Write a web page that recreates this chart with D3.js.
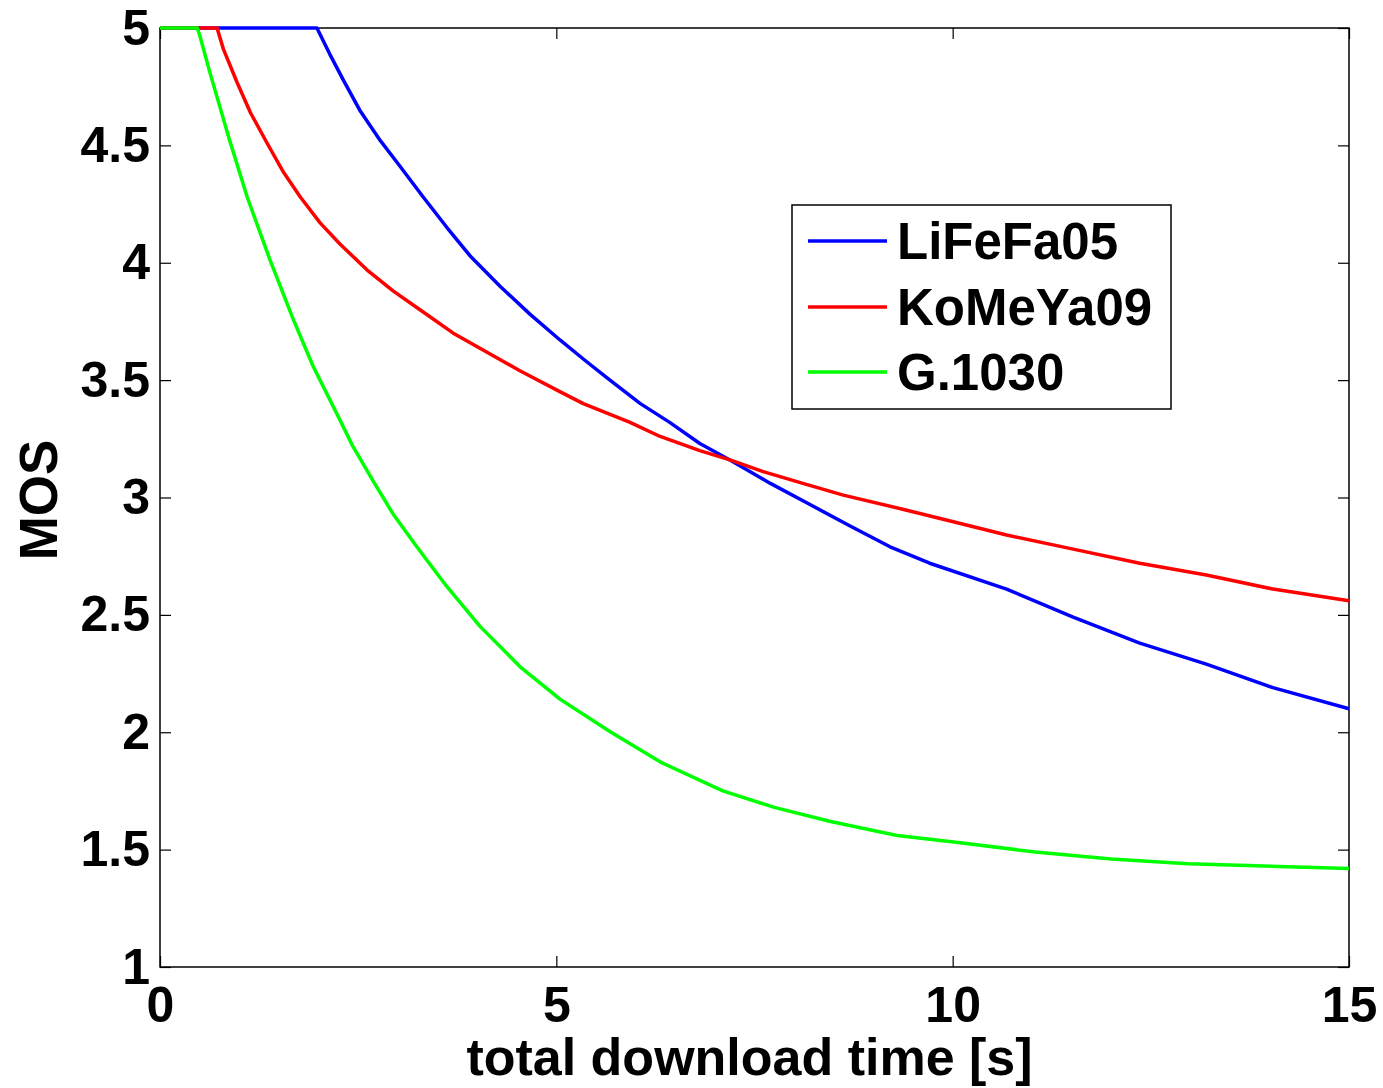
<!DOCTYPE html>
<html>
<head>
    <style>
        body { margin: 0; background: #fff; }
        text { font-family: "Liberation Sans", Arial, sans-serif; font-weight: bold; }
        .axis text { font-size: 50px; fill: #000; }
        .axis line { stroke: #000; stroke-width: 1.2; }
        .axis path { display: none; }
        .legend text { font-size: 51px; }
    </style>
    <script src="https://d3js.org/d3.v7.min.js"></script>
</head>
<body>
    <svg width="1383" height="1088"></svg>
    <script>
    // series
    var names = ["LiFeFa05", "KoMeYa09", "G.1030"];
    var colors = ["#0000ff", "#ff0000", "#00ff00"];

    var timeBlue = [0, 1.98, 2.14, 2.31, 2.52, 2.78, 3.03, 3.32, 3.62, 3.91, 4.29, 4.67, 5.05, 5.34, 5.64, 6.06, 6.43, 6.81, 7.19, 7.70, 8.20, 8.70, 9.21, 9.71, 10.68, 11.52, 12.36, 13.2, 14.04, 15];
    var mosBlue  = [5, 5, 4.89, 4.78, 4.65, 4.52, 4.41, 4.28, 4.15, 4.03, 3.90, 3.78, 3.67, 3.59, 3.51, 3.40, 3.32, 3.23, 3.16, 3.06, 2.97, 2.88, 2.79, 2.72, 2.61, 2.49, 2.38, 2.29, 2.19, 2.10];

    var timeRed = [0, 0.72, 0.80, 0.97, 1.14, 1.35, 1.55, 1.77, 2.02, 2.27, 2.61, 2.94, 3.32, 3.70, 4.12, 4.54, 5.05, 5.34, 5.93, 6.31, 6.81, 7.19, 7.61, 8.11, 8.62, 9.37, 9.97, 10.68, 11.52, 12.36, 13.2, 14.04, 15];
    var mosRed  = [5, 5, 4.91, 4.77, 4.64, 4.51, 4.39, 4.28, 4.17, 4.08, 3.97, 3.88, 3.79, 3.70, 3.62, 3.54, 3.45, 3.40, 3.32, 3.26, 3.20, 3.16, 3.11, 3.06, 3.01, 2.95, 2.90, 2.84, 2.78, 2.72, 2.67, 2.61, 2.56];

    var timeGreen = [0, 0.47, 0.5, 0.63, 0.88, 1.10, 1.39, 1.68, 1.93, 2.27, 2.43, 2.69, 2.94, 3.24, 3.62, 4.04, 4.54, 5.05, 5.69, 6.33, 7.10, 7.75, 8.46, 9.30, 10.07, 11.04, 12.0, 12.97, 13.93, 15];
    var mosGreen  = [5, 5, 4.97, 4.81, 4.52, 4.28, 4.01, 3.76, 3.56, 3.33, 3.22, 3.07, 2.93, 2.79, 2.62, 2.45, 2.28, 2.14, 2.0, 1.87, 1.75, 1.68, 1.62, 1.56, 1.53, 1.49, 1.46, 1.44, 1.43, 1.42];

    var xTicks = [0, 5, 10, 15];
    var yTicks = [1, 1.5, 2, 2.5, 3, 3.5, 4, 4.5, 5];

    function chart() {
        var svg = d3.select("svg"),
            margin = {left: 160, top: 28, right: 34, bottom: 121},
            width = +svg.attr("width") - margin.left - margin.right,
            height = +svg.attr("height") - margin.top - margin.bottom;

        var g = svg.append("g")
                   .attr("transform", "translate(" + margin.left + "," + margin.top + ")");

        var x = d3.scaleLinear().domain([0, 15]).range([0, width]);
        var y = d3.scaleLinear().domain([1, 5]).range([height, 0]);

        // axes, ticks pointing inward on all four sides
        g.append("g").attr("class", "axis")
         .attr("transform", "translate(0," + height + ")")
         .call(d3.axisBottom(x).tickValues(xTicks).tickSizeInner(-11).tickSizeOuter(0).tickPadding(19).tickFormat(d3.format("d")));

        g.append("g").attr("class", "axis")
         .call(d3.axisLeft(y).tickValues(yTicks).tickSizeInner(-11).tickSizeOuter(0).tickPadding(10).tickFormat(function(d) { return String(d); }));

        g.append("g").attr("class", "axis")
         .call(d3.axisTop(x).tickValues(xTicks).tickSizeInner(-11).tickSizeOuter(0).tickFormat(""));

        g.append("g").attr("class", "axis")
         .attr("transform", "translate(" + width + ",0)")
         .call(d3.axisRight(y).tickValues(yTicks).tickSizeInner(-11).tickSizeOuter(0).tickFormat(""));

        g.append("rect")
         .attr("width", width)
         .attr("height", height)
         .attr("fill", "none")
         .attr("stroke", "#000")
         .attr("stroke-width", 1.5);

        var series = [
            {t: timeBlue, v: mosBlue},
            {t: timeRed, v: mosRed},
            {t: timeGreen, v: mosGreen}
        ];

        var line = d3.line()
                     .x(function(d) { return x(d[0]); })
                     .y(function(d) { return y(d[1]); });

        series.forEach(function(s, i) {
            g.append("path")
             .datum(d3.zip(s.t, s.v))
             .attr("d", line)
             .attr("fill", "none")
             .attr("stroke", colors[i])
             .attr("stroke-width", 3.5)
             .attr("stroke-linejoin", "round");
        });

        // legend
        var lg = svg.append("g").attr("class", "legend");
        lg.append("rect")
          .attr("x", 792).attr("y", 205)
          .attr("width", 379).attr("height", 204)
          .attr("fill", "#fff")
          .attr("stroke", "#000")
          .attr("stroke-width", 1.5);

        var rowY = [241, 307, 372];
        names.forEach(function(n, i) {
            lg.append("line")
              .attr("x1", 808).attr("x2", 887)
              .attr("y1", rowY[i]).attr("y2", rowY[i])
              .attr("stroke", colors[i])
              .attr("stroke-width", 3.5);
            lg.append("text")
              .attr("x", 897).attr("y", rowY[i])
              .attr("dy", "0.36em")
              .text(n);
        });

        // axis titles
        svg.append("text")
           .attr("x", margin.left + width / 2 - 5)
           .attr("y", 1075)
           .attr("text-anchor", "middle")
           .style("font-size", "52px")
           .text("total download time [s]");

        svg.append("text")
           .attr("transform", "translate(57,500) rotate(-90)")
           .attr("text-anchor", "middle")
           .style("font-size", "53px")
           .text("MOS");
    }
    chart();
    </script>
</body>
</html>
